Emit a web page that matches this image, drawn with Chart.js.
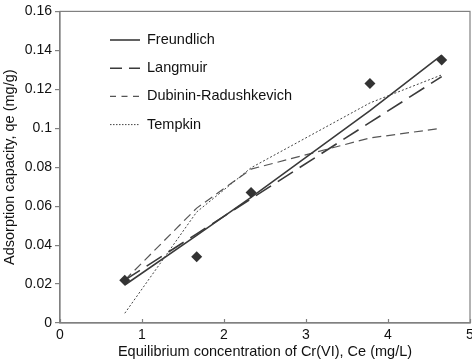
<!DOCTYPE html>
<html>
<head>
<meta charset="utf-8">
<script src="https://cdn.jsdelivr.net/npm/chart.js@4"></script>
<style>
  html, body { margin: 0; padding: 0; background: #fff; }
  #wrap { width: 472px; height: 362px; }
</style>
</head>
<body>
<div id="wrap"><canvas id="cIso"></canvas></div>
<script>
// experimental data
const ce = [0.79, 1.667, 2.33, 3.78, 4.655];
const qe = [0.022, 0.034, 0.067, 0.123, 0.135];
// fitted isotherms at the same Ce values
const freundlich = [0.0195, 0.045, 0.0645, 0.109, 0.1375];
const langmuir   = [0.022, 0.0458, 0.0638, 0.103, 0.1265];
const dubinin    = [0.022, 0.059, 0.079, 0.095, 0.100];
const tempkin    = [0.005, 0.057, 0.0797, 0.113, 0.1274];
const xTicks = [0, 1, 2, 3, 4, 5];

const FONT = "'Liberation Sans', Arial, sans-serif";
const INK = '#3a3a3a';

const pts = ys => ce.map((x, i) => ({ x, y: ys[i] }));
const fit = (label, ys, dash, legDash, width, color) => ({
  label, data: pts(ys), showLine: true, pointRadius: 0, legDash,
  borderColor: color, borderWidth: width, borderDash: dash, fill: false,
});

const datasets = [
  { label: 'data', data: pts(qe), showLine: false, pointStyle: 'rectRot', pointRadius: 5.5,
    backgroundColor: '#333', borderColor: '#333', borderWidth: 0 },
  fit('Freundlich', freundlich, [], [], 1.6, INK),
  fit('Langmuir', langmuir, [18, 8], [12, 7], 1.6, INK),
  fit('Dubinin-Radushkevich', dubinin, [9, 5], [6, 5.5], 1.2, '#555'),
  fit('Tempkin', tempkin, [2, 2], [1.5, 1.5], 1, '#444'),
];

// frame, inside x ticks and the legend in the upper left
const decor = {
  id: 'decor',
  afterDraw(chart) {
    const { ctx, chartArea: a, scales } = chart;
    ctx.save();
    ctx.strokeStyle = '#808080';
    ctx.lineWidth = 1.2;
    ctx.strokeRect(a.left, a.top, a.right - a.left, a.bottom - a.top);
    xTicks.forEach(v => {
      const px = Math.round(scales.x.getPixelForValue(v)) + 0.5;
      ctx.beginPath(); ctx.moveTo(px, a.bottom); ctx.lineTo(px, a.bottom - 4); ctx.stroke();
    });
    ctx.font = '14.5px ' + FONT;
    ctx.textBaseline = 'middle';
    datasets.slice(1).forEach((d, i) => {
      const y = 40 + i * 28.2;
      ctx.strokeStyle = d.borderColor;
      ctx.lineWidth = d.borderWidth;
      ctx.setLineDash(d.legDash);
      ctx.beginPath(); ctx.moveTo(110, y); ctx.lineTo(140, y); ctx.stroke();
      ctx.setLineDash([]);
      ctx.fillStyle = '#111';
      ctx.fillText(d.label, 147, y);
    });
    ctx.restore();
  },
};

new Chart(document.getElementById('cIso'), {
  type: 'scatter',
  data: { datasets },
  options: {
    responsive: true, maintainAspectRatio: false, animation: false,
    layout: { autoPadding: false, padding: { top: 7, right: 2, left: 0, bottom: 0 } },
    plugins: { legend: { display: false }, tooltip: { enabled: false } },
    scales: {
      x: {
        min: 0, max: 5,
        grid: { display: false, drawTicks: true, tickLength: 4 },
        border: { display: true, color: '#808080', width: 1.2 },
        ticks: { stepSize: 1, color: '#111', font: { family: FONT, size: 14 }, padding: 0, maxRotation: 0 },
        title: { display: true, text: 'Equilibrium concentration of Cr(VI), Ce (mg/L)', color: '#111',
                 font: { family: FONT, size: 14.5 }, padding: { top: 0, bottom: 1 } },
        afterFit: s => { s.height = 39; s.paddingRight = 2; },
      },
      y: {
        min: 0, max: 0.16,
        grid: { drawOnChartArea: false, tickLength: 5, color: '#808080', lineWidth: 1.2 },
        border: { display: true, color: '#808080', width: 1.2 },
        ticks: { stepSize: 0.02, color: '#111', font: { family: FONT, size: 14 }, padding: 3,
                 callback: v => String(+v.toFixed(2)) },
        title: { display: true, text: 'Adsorption capacity, qe (mg/g)', color: '#111',
                 font: { family: FONT, size: 14.5 }, padding: { top: 1, bottom: 0 } },
        afterFit: s => { s.width = 60; },
      },
    },
  },
  plugins: [decor],
});
</script>
</body>
</html>
